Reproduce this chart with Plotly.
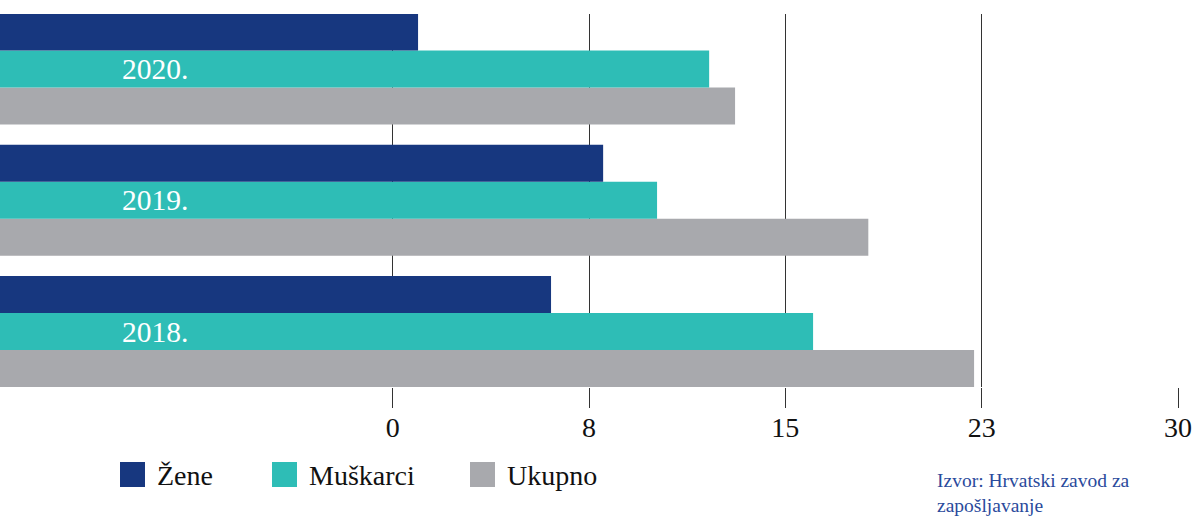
import plotly.graph_objects as go

# ---- data (values read on the x axis scale) ----
years = ["2018.", "2019.", "2020."]
zene = [6.05, 8.04, 0.97]
muskarci = [16.06, 10.10, 12.09]
ukupno = [22.21, 18.17, 13.08]
series_names = ["Žene", "Muškarci", "Ukupno"]
tick_values = [0, 7.5, 15, 22.5, 30]
tick_labels = ["0", "8", "15", "23", "30"]
source_text = "Izvor: Hrvatski zavod za<br>zapošljavanje"

# ---- style ----
colors = {"Žene": "#17377f", "Muškarci": "#2ebdb6", "Ukupno": "#a8a9ad"}
FONT = "Liberation Serif"
X_MIN, X_MAX = -15, 30
W, H = 1198, 517
M_L, M_R, M_T, M_B = 0, 20, 14, 130
PW = W - M_L - M_R
PH = H - M_T - M_B

series = {"Žene": zene, "Muškarci": muskarci, "Ukupno": ukupno}

fig = go.Figure()
# horizontal grouped bars: first trace sits at the bottom of each group
for name in ["Ukupno", "Muškarci", "Žene"]:
    vals = series[name]
    fig.add_trace(go.Bar(
        y=years,
        x=[v - X_MIN for v in vals],
        base=X_MIN,
        orientation="h",
        name=name,
        marker=dict(color=colors[name], line=dict(width=0)),
        showlegend=False,
    ))

# year labels inside the middle (teal) bar
for i, yr in enumerate(years):
    fig.add_annotation(
        x=-10.42, y=i, xref="x", yref="y",
        text=yr, showarrow=False, xanchor="left", yanchor="middle",
        font=dict(family=FONT, size=29.5, color="#ffffff"),
    )

# custom legend
def px_x(px):
    return (px - M_L) / PW

def px_y(py):
    return (M_T + PH - py) / PH

legend_x = [120, 272, 470]
for name, lx in zip(series_names, legend_x):
    fig.add_shape(
        type="rect", xref="paper", yref="paper",
        x0=px_x(lx), x1=px_x(lx + 25), y0=px_y(487), y1=px_y(462),
        fillcolor=colors[name], line=dict(width=0),
    )
    fig.add_annotation(
        x=px_x(lx + 35), y=px_y(475), xref="paper", yref="paper",
        text=name, showarrow=False, xanchor="left", yanchor="middle",
        font=dict(family=FONT, size=28, color="#111111"),
    )

fig.add_annotation(
    x=px_x(935), y=px_y(468), xref="paper", yref="paper",
    text=source_text, showarrow=False, xanchor="left", yanchor="top",
    align="left",
    font=dict(family=FONT, size=19.5, color="#2a4a9c"),
)

fig.update_layout(
    width=W, height=H,
    margin=dict(l=M_L, r=M_R, t=M_T, b=M_B, pad=0),
    paper_bgcolor="white", plot_bgcolor="white",
    barmode="group", bargap=0.154, bargroupgap=0,
    xaxis=dict(
        range=[X_MIN, X_MAX],
        tickmode="array", tickvals=tick_values, ticktext=tick_labels,
        showgrid=True, gridcolor="#333333", gridwidth=1,
        zeroline=False, showline=False,
        ticks="outside", ticklen=20, tickcolor="#333333", tickwidth=1,
        ticklabelstandoff=-5,
        tickfont=dict(family=FONT, size=28, color="#111111"),
    ),
    yaxis=dict(
        type="category", categoryorder="array", categoryarray=years,
        range=[-0.423, 2.42],
        showticklabels=False, showgrid=False, zeroline=False, showline=False,
        ticks="",
    ),
)

fig.write_html(
    "out.html",
    config={"displayModeBar": False},
    post_script="document.body.style.margin='0';document.body.style.overflow='hidden';",
)
